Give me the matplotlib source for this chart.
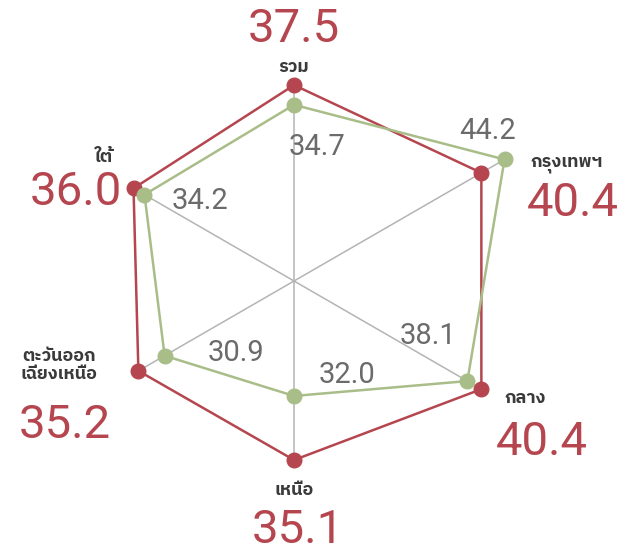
import numpy as np
import matplotlib
matplotlib.use("Agg")
import matplotlib.pyplot as plt

# regions, clockwise from the top
categories = ['รวม', 'กรุงเทพฯ', 'กลาง', 'เหนือ', 'ตะวันออก\nเฉียงเหนือ', 'ใต้']
red_values = [37.5, 40.4, 40.4, 35.1, 35.2, 36.0]
green_labels = ['34.7', '44.2', '38.1', '32.0', '30.9', '34.2']
# green series as drawn: the เหนือ point sits well below its 32.0 label
green_values = [34.7, 44.2, 38.1, 26.0, 30.9, 34.2]

RED = '#b5464f'
GREEN = '#a9bd89'
SPOKE = '#b4b4b4'
THAI = ['IBM Plex Sans Thai', 'Noto Sans Thai', 'Kanit', 'DejaVu Sans']
NUM = ['Roboto', 'DejaVu Sans']

r0, rmax = 9.67, 45.0
n = len(categories)
theta = np.arange(n) * 2 * np.pi / n

fig = plt.figure(figsize=(6.33, 5.56), dpi=100)
ax = fig.add_axes([0.0716, 0.0473, 0.7858, 0.8946], projection='polar')
ax.set_theta_zero_location('N')
ax.set_theta_direction(-1)
ax.set_ylim(r0, rmax)
ax.grid(False)
ax.set_xticks([])
ax.set_yticks([])
ax.spines['polar'].set_visible(False)
ax.patch.set_alpha(0)

# spokes out to the larger of the two series
for t, a, b in zip(theta, red_values, green_values):
    ax.plot([t, t], [r0, max(a, b)], color=SPOKE, lw=1.1, zorder=1)

tc = np.append(theta, theta[0])
ax.plot(tc, red_values + red_values[:1], color=RED, lw=1.8, zorder=2)
ax.plot(tc, green_values + green_values[:1], color=GREEN, lw=1.8, zorder=3)
ax.plot(theta, red_values, 'o', color=RED, ms=10.5, zorder=4, clip_on=False)
ax.plot(theta, green_values, 'o', color=GREEN, ms=10.5, zorder=5, clip_on=False)

# label offsets in pixels (x right, y down) from each red point
cat_off = [(0, -18, 'center'), (49, -9, 'left'), (23, 9, 'left'),
           (0, 30, 'center'), (-41, -6, 'right'), (-30, -31, 'center')]
red_off = [(0, -56, 'center'), (45, 30, 'left'), (14, 53, 'left'),
           (4, 70, 'center'), (-74, 54, 'center'), (-12, 4, 'right')]
# offsets from each green point
green_off = [(23, 42), (-17, -28), (-39, -45), (53, -21), (71, -3), (56, 6)]

for i in range(n):
    dx, dy, ha = cat_off[i]
    ax.annotate(categories[i], xy=(theta[i], red_values[i]), xytext=(dx, -dy),
                textcoords='offset pixels', ha=ha, va='center', multialignment='center',
                fontsize=13, fontweight='bold', color='#3a3a3a', family=THAI,
                linespacing=1.0)
    dx, dy, ha = red_off[i]
    ax.annotate('%.1f' % red_values[i], xy=(theta[i], red_values[i]), xytext=(dx, -dy),
                textcoords='offset pixels', ha=ha, va='center',
                fontsize=34, color=RED, family=NUM)
    dx, dy = green_off[i]
    ax.annotate(green_labels[i], xy=(theta[i], green_values[i]), xytext=(dx, -dy),
                textcoords='offset pixels', ha='center', va='center',
                fontsize=21, color='#6b6b6b', family=NUM)

fig.savefig('out.png', dpi=100)
